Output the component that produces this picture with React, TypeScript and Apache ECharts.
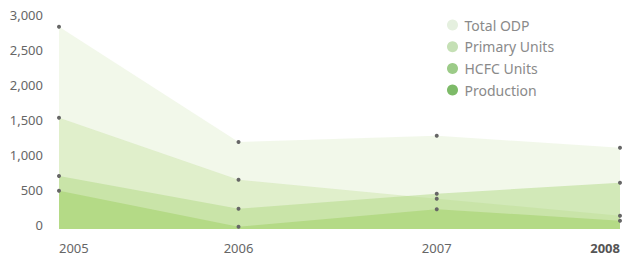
import React, { useEffect, useRef } from "react";
import * as echarts from "echarts";

// x positions of the four reports (fractional years)
const yearLabels = ["2005", "2006", "2007", "2008"];
const yearPos = [2005, 2005.96, 2007.02, 2008];

const seriesNames = ["Total ODP", "Primary Units", "HCFC Units", "Production"];
const totalODP = [2890, 1243, 1333, 1161];
const primaryUnits = [1590, 704, 433, 190];
const hcfcUnits = [757, 290, 504, 660];
const production = [547, 33, 281, 119];

const yTicks = [0, 500, 1000, 1500, 2000, 2500, 3000];

const areaColors = ["#e5f1d5", "#cee6ac", "#b2d985", "#9fd064"];
const legendColors = ["#e5f0df", "#c5e0b5", "#9ccb88", "#7dba68"];

const FONT = "'Noto Sans', sans-serif";

export default function App() {
  const ref = useRef<HTMLDivElement>(null);
  useEffect(() => {
    document.body.style.margin = "0";
    if (!ref.current) return;
    const chart = echarts.init(ref.current, null, { renderer: "svg" });
    const all = [totalODP, primaryUnits, hcfcUnits, production];
    chart.setOption({
      animation: false,
      textStyle: { fontFamily: FONT },
      grid: { left: 59, right: 13, top: 19, bottom: 26, containLabel: false },
      legend: {
        orient: "vertical",
        left: 442,
        top: 13,
        itemWidth: 14,
        itemHeight: 11,
        itemGap: 7.7,
        icon: "circle",
        textStyle: { color: "#8a8a8a", fontSize: 14, lineHeight: 14, fontFamily: FONT },
        data: seriesNames.map((n, i) => ({ name: n, itemStyle: { color: legendColors[i] } })),
      },
      xAxis: {
        type: "value",
        min: yearPos[0],
        max: yearPos[yearPos.length - 1],
        axisLine: { show: false },
        axisTick: { show: false },
        splitLine: { show: false },
        axisLabel: {
          customValues: yearPos,
          margin: 12,
          color: "#666",
          fontSize: 13,
          fontFamily: FONT,
          alignMinLabel: "left",
          alignMaxLabel: "right",
          formatter: (v: number) => {
            const idx = yearPos.findIndex((p) => Math.abs(p - v) < 1e-6);
            const lab = idx >= 0 ? yearLabels[idx] : String(Math.round(v));
            return idx === yearPos.length - 1 ? `{b|${lab}}` : lab;
          },
          rich: { b: { fontWeight: "bold", color: "#555", fontSize: 13, fontFamily: FONT } },
        },
      },
      yAxis: {
        type: "value",
        min: 0,
        max: 3000,
        interval: 500,
        axisLine: { show: false },
        axisTick: { show: false },
        splitLine: { show: false },
        axisLabel: {
          color: "#666",
          fontSize: 13,
          margin: 16,
          verticalAlign: "bottom",
          lineHeight: 8,
          fontFamily: FONT,
          formatter: (v: number) => (yTicks.includes(v) ? v.toLocaleString("en-US") : ""),
        },
      },
      series: all.map((vals, i) => ({
        name: seriesNames[i],
        type: "line",
        data: vals.map((v, j) => [yearPos[j], v]),
        symbol: "circle",
        symbolSize: 4,
        showSymbol: true,
        itemStyle: { color: "#666" },
        lineStyle: { width: 0, opacity: 0 },
        areaStyle: { color: areaColors[i], opacity: 0.5 },
        z: 2,
      })),
    });
    return () => chart.dispose();
  }, []);
  return <div ref={ref} style={{ width: 633, height: 255 }} />;
}
